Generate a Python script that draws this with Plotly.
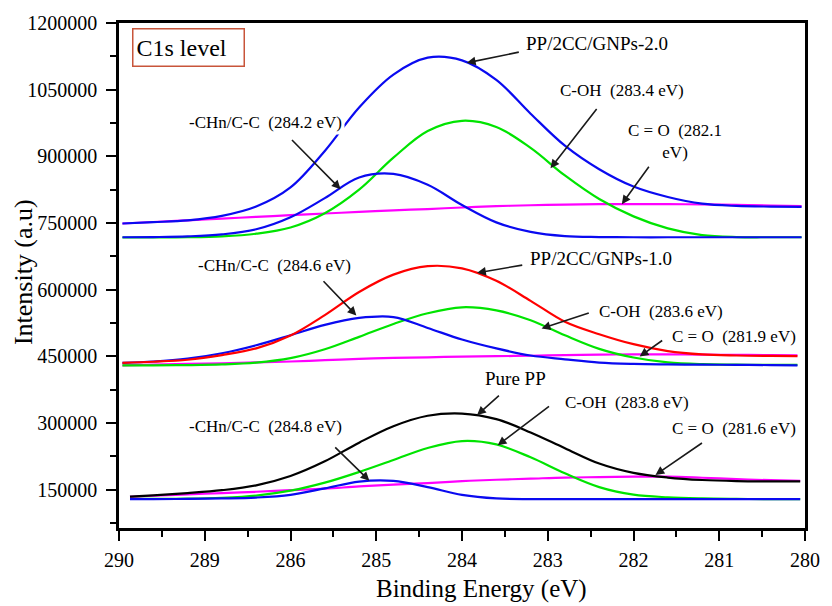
import plotly.graph_objects as go

# ---- axis ticks -------------------------------------------------------------
x_tick_positions = [290.0, 288.75, 287.5, 286.25, 285.0, 283.75, 282.5, 281.25, 280.0]
x_tick_labels = ["290", "289", "286", "285", "284", "283", "282", "281", "280"]
y_tick_values = [150000, 300000, 450000, 600000, 750000, 900000, 1050000, 1200000]
y_tick_labels = ["150000", "300000", "450000", "600000", "750000", "900000", "1050000", "1200000"]

# ---- binding-energy sampling for each spectrum --------------------------------
energy_gnp2 = [289.95, 289.5, 289.0, 288.5, 288.0, 287.5, 287.0, 286.5, 286.0, 285.5, 285.0,
               284.5, 284.0, 283.5, 283.0, 282.5, 282.0, 281.5, 281.0, 280.5, 280.05]
energy_gnp1 = [289.95, 289.5, 289.0, 288.5, 288.0, 287.5, 287.0, 286.5, 286.0, 285.5, 285.0,
               284.5, 284.0, 283.5, 283.0, 282.5, 282.0, 281.5, 281.0, 280.5, 280.11]
energy_pp = [289.84, 289.5, 289.0, 288.5, 288.0, 287.5, 287.0, 286.5, 286.0, 285.5, 285.0,
             284.5, 284.0, 283.5, 283.0, 282.5, 282.0, 281.5, 281.0, 280.5, 280.07]

# ---- PP/2CC/GNPs-2.0 ---------------------------------------------------------
gnp2_envelope = [749000, 752000, 756000, 766000, 787000, 830000, 912000, 1010000, 1084000, 1122000, 1116000,
                 1072000, 996000, 924000, 871000, 832000, 808500, 793500, 788500, 787000, 786500]
gnp2_chn = [718000, 718500, 720000, 724500, 736000, 763000, 806000, 852500, 860500, 836000, 790500,
            751500, 730000, 720500, 718500, 718000, 718000, 718000, 718000, 718000, 718000]
gnp2_coh = [717500, 717500, 718000, 720000, 726000, 740000, 772000, 825000, 897000, 957000, 980000,
            966000, 919000, 857000, 804000, 765000, 738000, 723000, 718500, 718000, 718000]
gnp2_co = [749000, 752400, 756200, 760000, 763900, 767700, 771500, 775000, 778500, 781500, 785000,
           788000, 790000, 791500, 792500, 792500, 792500, 792000, 791000, 789500, 788000]

# ---- PP/2CC/GNPs-1.0 ---------------------------------------------------------
gnp1_envelope = [435500, 438000, 442500, 453000, 468000, 497000, 543000, 595000, 634000, 653000, 648000,
                 620000, 575000, 528000, 500000, 477500, 462000, 454500, 452000, 451000, 450700]
gnp1_chn = [435500, 438500, 445000, 457000, 475000, 497500, 521000, 536500, 538500, 514000, 488000,
            468000, 452000, 443500, 436000, 433000, 432000, 431500, 431000, 430500, 430000]
gnp1_coh = [430000, 430000, 430500, 432000, 436000, 446000, 466000, 494000, 523000, 547000, 560500,
            553500, 531500, 497500, 467000, 447500, 436500, 432500, 431500, 431000, 431000]
gnp1_co = [430000, 431500, 433000, 434500, 436500, 438500, 441500, 444500, 446500, 448000, 449500,
           450500, 451500, 453000, 454000, 454500, 454500, 454000, 453500, 453000, 452500]

# ---- Pure PP -----------------------------------------------------------------
pp_envelope = [134500, 137500, 142500, 149000, 160000, 181000, 214000, 256000, 293000, 316500, 321500,
               309000, 279000, 243500, 209000, 188000, 177500, 172000, 169500, 168800, 168700]
pp_chn = [129000, 129000, 129500, 130500, 132500, 138500, 153000, 168500, 170000, 156000, 138500,
          130500, 129000, 129000, 129000, 129000, 129000, 129000, 129000, 129000, 129000]
pp_coh = [129500, 129500, 130000, 132000, 137000, 148000, 166000, 190000, 217000, 244000, 259500,
          252000, 223000, 187000, 156000, 139000, 133000, 130500, 129500, 129000, 129000]
pp_co = [134000, 136500, 139500, 142500, 145500, 149000, 152500, 157500, 161500, 165000, 169500,
         172500, 175000, 177500, 178500, 179500, 179500, 177000, 174000, 171500, 170000]

BLUE = "#0a0af0"
GREEN = "#00e400"
MAGENTA = "#ff00ff"
RED = "#ff0000"
BLACK = "#000000"
SERIF = "Liberation Serif, Times New Roman, serif"

series = [
    (energy_gnp2, gnp2_co, MAGENTA),
    (energy_gnp2, gnp2_coh, GREEN),
    (energy_gnp2, gnp2_chn, BLUE),
    (energy_gnp2, gnp2_envelope, BLUE),
    (energy_gnp1, gnp1_co, MAGENTA),
    (energy_gnp1, gnp1_coh, GREEN),
    (energy_gnp1, gnp1_chn, BLUE),
    (energy_gnp1, gnp1_envelope, RED),
    (energy_pp, pp_co, MAGENTA),
    (energy_pp, pp_coh, GREEN),
    (energy_pp, pp_chn, BLUE),
    (energy_pp, pp_envelope, BLACK),
]

fig = go.Figure()
for xs, ys, color in series:
    fig.add_trace(go.Scatter(x=xs, y=ys, mode="lines",
                             line=dict(color=color, width=2.2, shape="spline", smoothing=1.0),
                             showlegend=False, hoverinfo="skip"))


def label(x, y, text, size=17):
    return dict(x=x, y=y, xref="x", yref="y", text=text, showarrow=False,
                font=dict(family=SERIF, size=size, color=BLACK),
                bgcolor="white", borderpad=2)


def arrow(x, y, ax, ay):
    return dict(x=x, y=y, ax=ax, ay=ay, xref="x", yref="y", axref="x", ayref="y",
                text="", showarrow=True, arrowhead=2, arrowsize=1.1,
                arrowwidth=1.6, arrowcolor="#1a1a1a")


sp = "\u00a0 "
annotations = [
    # panel tag
    dict(x=288.99, y=1144000, xref="x", yref="y", text="C1s level", showarrow=False,
         font=dict(family=SERIF, size=24, color=BLACK), align="left", width=104, height=30,
         bordercolor="#c8553a", borderwidth=1.5, borderpad=3, bgcolor="white"),
    # PP/2CC/GNPs-2.0
    label(283.03, 1153000, "PP/2CC/GNPs-2.0", 19),
    arrow(284.93, 1110400, 284.15, 1135100),
    label(282.67, 1047800, "C-OH" + sp + "(283.4 eV)"),
    arrow(283.71, 873100, 283.02, 1009700),
    label(281.90, 932500, "C = O" + sp + "(282.1<br>eV)"),
    arrow(282.67, 792500, 282.26, 879850),
    label(287.87, 976100, "-CHn/C-C" + sp + "(284.2 eV)"),
    arrow(286.77, 826100, 287.50, 940300),
    # PP/2CC/GNPs-1.0
    label(282.97, 669400, "PP/2CC/GNPs-1.0", 19),
    arrow(284.78, 638000, 284.10, 655970),
    label(287.74, 653700, "-CHn/C-C" + sp + "(284.6 eV)"),
    arrow(286.54, 542000, 287.04, 622400),
    label(282.10, 550750, "C-OH" + sp + "(283.6 eV)"),
    arrow(283.84, 512700, 283.13, 548500),
    label(281.04, 494800, "C = O" + sp + "(281.9 eV)"),
    arrow(282.41, 450000, 282.06, 488100),
    # Pure PP
    label(284.22, 400750, "Pure PP", 19),
    arrow(284.78, 318000, 284.44, 364900),
    label(282.60, 347000, "C-OH" + sp + "(283.8 eV)"),
    arrow(284.48, 250000, 283.71, 340300),
    label(281.04, 288800, "C = O" + sp + "(281.6 eV)"),
    arrow(282.18, 183300, 281.48, 257500),
    label(287.87, 293300, "-CHn/C-C" + sp + "(284.8 eV)"),
    arrow(286.35, 170200, 286.87, 248500),
    # axis titles
    dict(x=0.528, y=-0.121, xref="paper", yref="paper", text="Binding Energy (eV)",
         showarrow=False, font=dict(family=SERIF, size=25, color=BLACK),
         xanchor="center", yanchor="middle"),
    dict(x=-0.139, y=0.506, xref="paper", yref="paper", text="Intensity (a.u)",
         showarrow=False, textangle=-90, font=dict(family=SERIF, size=26, color=BLACK),
         xanchor="center", yanchor="middle"),
]

axis_common = dict(showline=True, linecolor=BLACK, linewidth=2.5, mirror=True,
                   showgrid=False, zeroline=False, ticks="outside", ticklen=10,
                   tickwidth=2, tickcolor=BLACK,
                   tickfont=dict(family=SERIF, size=20, color=BLACK))

fig.update_xaxes(range=[290, 280], tickmode="array", tickvals=x_tick_positions,
                 ticktext=x_tick_labels, ticklabelstandoff=2,
                 minor=dict(ticks="outside", ticklen=6, tickwidth=2, tickcolor=BLACK,
                            tickmode="array",
                            tickvals=[289.375, 288.125, 286.875, 285.625, 284.375,
                                      283.125, 281.875, 280.625]),
                 **axis_common)
fig.update_yaxes(range=[64000, 1200000], tickmode="array", tickvals=y_tick_values,
                 ticktext=y_tick_labels, ticklabelstandoff=5,
                 minor=dict(ticks="outside", ticklen=6, tickwidth=2, tickcolor=BLACK,
                            tickmode="array",
                            tickvals=[75000, 225000, 375000, 525000, 675000, 825000,
                                      975000, 1125000]),
                 **axis_common)

fig.update_layout(width=832, height=606, margin=dict(l=119, r=17, t=22, b=78),
                  paper_bgcolor="white", plot_bgcolor="white",
                  annotations=annotations, showlegend=False)

fig.write_html("out.html")
